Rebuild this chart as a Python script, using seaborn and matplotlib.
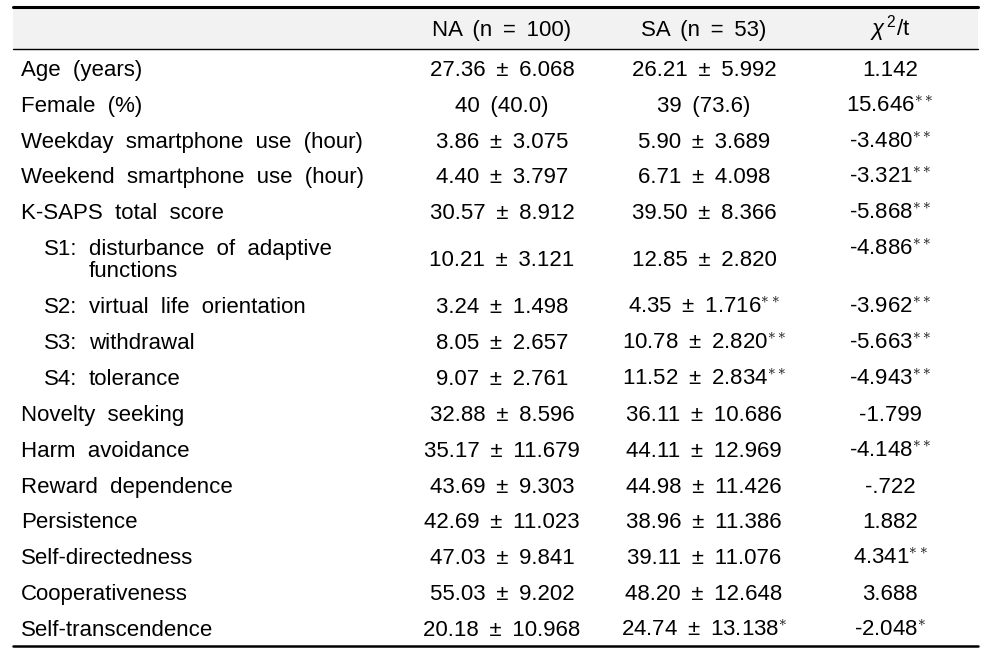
import matplotlib
matplotlib.use("Agg")
import matplotlib.pyplot as plt
import seaborn as sns

# Table contents
row_labels = ["Age (years)", "Female (%)", "Weekday smartphone use (hour)",
              "Weekend smartphone use (hour)", "K-SAPS total score",
              "disturbance of adaptive\nfunctions", "virtual life orientation",
              "withdrawal", "tolerance", "Novelty seeking", "Harm avoidance",
              "Reward dependence", "Persistence", "Self-directedness",
              "Cooperativeness", "Self-transcendence"]
sub_prefix = ["", "", "", "", "", "S1:", "S2:", "S3:", "S4:", "", "", "", "", "", "", ""]
na_vals = ["27.36 ± 6.068", "40 (40.0)", "3.86 ± 3.075", "4.40 ± 3.797",
           "30.57 ± 8.912", "10.21 ± 3.121", "3.24 ± 1.498", "8.05 ± 2.657",
           "9.07 ± 2.761", "32.88 ± 8.596", "35.17 ± 11.679", "43.69 ± 9.303",
           "42.69 ± 11.023", "47.03 ± 9.841", "55.03 ± 9.202", "20.18 ± 10.968"]
sa_vals = ["26.21 ± 5.992", "39 (73.6)", "5.90 ± 3.689", "6.71 ± 4.098",
           "39.50 ± 8.366", "12.85 ± 2.820", "4.35 ± 1.716**", "10.78 ± 2.820**",
           "11.52 ± 2.834**", "36.11 ± 10.686", "44.11 ± 12.969", "44.98 ± 11.426",
           "38.96 ± 11.386", "39.11 ± 11.076", "48.20 ± 12.648", "24.74 ± 13.138*"]
chi_vals = ["1.142", "15.646**", "-3.480**", "-3.321**", "-5.868**", "-4.886**",
            "-3.962**", "-5.663**", "-4.943**", "-1.799", "-4.148**", "-.722",
            "1.882", "4.341**", "3.688", "-2.048*"]
headers = ["NA (n = 100)", "SA (n = 53)", r"$\chi^{\,2}$/t"]

sns.set_theme(style="white")
plt.rcParams["font.family"] = ["Liberation Sans", "DejaVu Sans"]
plt.rcParams["text.color"] = "black"
plt.rcParams["mathtext.fontset"] = "custom"
plt.rcParams["mathtext.rm"] = "Liberation Sans"
plt.rcParams["mathtext.it"] = "Liberation Sans:italic"

fig = plt.figure(figsize=(9.87, 6.56), dpi=100)
ax = fig.add_axes([0, 0, 1, 1])
ax.set_xlim(0, 987)
ax.set_ylim(656, 0)
ax.axis("off")

fs = 16
col_x = [502, 704, 890]
x0, x1 = 13, 978
label_gap = "  "
value_gap = " \u2009"
base_off = 8  # baseline below row centre


def wide(s, gap=value_gap):
    # justified-looking word spacing
    return s.replace(" ", gap)


def fmt(s):
    # raise the significance stars
    base = s.rstrip("*")
    stars = s[len(base):]
    base = wide(base)
    if stars:
        return base + "$^{" + r"\ast" * len(stars) + "}$"
    return base


def put(x, y, s, ha="left"):
    ax.text(x, y, s, ha=ha, va="baseline", fontsize=fs)


# header band and rules
ax.fill_between([x0, x1], 7, 49, color="#f2f2f2", lw=0)
ax.plot([x0, x1], [7, 7], color="black", lw=2.2)
ax.plot([x0, x1], [49, 49], color="black", lw=1.0)
ax.plot([x0, x1], [646, 646], color="black", lw=1.8)
for x, h in zip(col_x, headers):
    put(x, 36, wide(h), ha="center")

row_h = 35.85
y = 50
for i, lab in enumerate(row_labels):
    two = "\n" in lab
    h = row_h + 22.3 if two else row_h
    yb = y + h / 2 + base_off
    top = yb - 11 if two else yb
    if sub_prefix[i]:
        put(44, top, sub_prefix[i])
        if two:
            first, second = lab.split("\n")
            put(89, top, wide(first, label_gap))
            put(89, yb + 11, second)
        else:
            put(89, yb, wide(lab, label_gap))
    else:
        put(21, yb, wide(lab, label_gap))
    put(col_x[0], yb, fmt(na_vals[i]), ha="center")
    put(col_x[1], yb, fmt(sa_vals[i]), ha="center")
    put(col_x[2], top, fmt(chi_vals[i]), ha="center")
    y += h

fig.savefig("out.png", dpi=100)
